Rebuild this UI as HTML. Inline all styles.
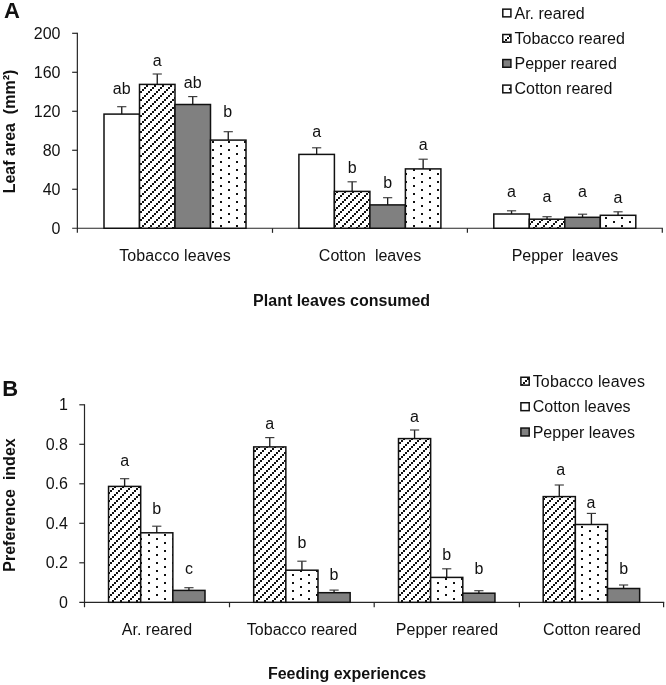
<!DOCTYPE html>
<html><head><meta charset="utf-8"><title>Figure</title>
<style>
html,body{margin:0;padding:0;background:#fff;}
svg{display:block;will-change:transform;white-space:pre;font-family:"Liberation Sans",sans-serif;fill:#111;}
</style></head><body>
<svg width="666" height="685" viewBox="0 0 666 685">

<rect width="666" height="685" fill="#fff"/>

<path d="M77.35 32.7V232.85M72.14999999999999 228.25H662.9" stroke="#262626" stroke-width="1.2" fill="none"/>
<text x="60.50" y="233.75" text-anchor="end" font-size="16" xml:space="preserve">0</text>
<path d="M72.14999999999999 189.26H77.35" stroke="#262626" stroke-width="1.2"/>
<text x="60.50" y="194.76" text-anchor="end" font-size="16" xml:space="preserve">40</text>
<path d="M72.14999999999999 150.27H77.35" stroke="#262626" stroke-width="1.2"/>
<text x="60.50" y="155.77" text-anchor="end" font-size="16" xml:space="preserve">80</text>
<path d="M72.14999999999999 111.28H77.35" stroke="#262626" stroke-width="1.2"/>
<text x="60.50" y="116.78" text-anchor="end" font-size="16" xml:space="preserve">120</text>
<path d="M72.14999999999999 72.29H77.35" stroke="#262626" stroke-width="1.2"/>
<text x="60.50" y="77.79" text-anchor="end" font-size="16" xml:space="preserve">160</text>
<path d="M72.14999999999999 33.30H77.35" stroke="#262626" stroke-width="1.2"/>
<text x="60.50" y="38.80" text-anchor="end" font-size="16" xml:space="preserve">200</text>
<path d="M272.5 228.25V232.85" stroke="#262626" stroke-width="1.2"/>
<path d="M467.4 228.25V232.85" stroke="#262626" stroke-width="1.2"/>
<path d="M662.3 228.25V232.85" stroke="#262626" stroke-width="1.2"/>
<path d="M121.75 114.10V106.70" stroke="#1c1c1c" stroke-width="1.35" fill="none"/>
<path d="M117.15 106.70H126.35" stroke="#3c3c3c" stroke-width="1.15" fill="none"/>
<rect x="104.00" y="114.10" width="35.50" height="114.15" fill="#fff" stroke="#111" stroke-width="1.5"/>
<text x="121.75" y="94.00" text-anchor="middle" font-size="16" xml:space="preserve">ab</text>
<path d="M157.25 84.40V74.00" stroke="#1c1c1c" stroke-width="1.35" fill="none"/>
<path d="M152.65 74.00H161.85" stroke="#3c3c3c" stroke-width="1.15" fill="none"/>
<rect x="139.50" y="84.40" width="35.50" height="143.85" fill="#fff"/>
<path d="M139.5 85h0.5v2h-0.5zM139.5 93h0.5v2h-0.5zM139.5 101h0.5v2h-0.5zM139.5 109h0.5v2h-0.5zM139.5 117h0.5v2h-0.5zM139.5 125h0.5v2h-0.5zM139.5 133h0.5v2h-0.5zM139.5 141h0.5v2h-0.5zM139.5 149h0.5v2h-0.5zM139.5 157h0.5v2h-0.5zM139.5 165h0.5v2h-0.5zM139.5 173h0.5v2h-0.5zM139.5 181h0.5v2h-0.5zM139.5 189h0.5v2h-0.5zM139.5 197h0.5v2h-0.5zM139.5 205h0.5v2h-0.5zM139.5 213h0.5v2h-0.5zM139.5 221h0.5v2h-0.5zM140 84.4h2v0.6h-2zM146 85h2v2h-2zM144 87h2v2h-2zM142 89h2v2h-2zM140 91h2v2h-2zM146 93h2v2h-2zM144 95h2v2h-2zM142 97h2v2h-2zM140 99h2v2h-2zM146 101h2v2h-2zM144 103h2v2h-2zM142 105h2v2h-2zM140 107h2v2h-2zM146 109h2v2h-2zM144 111h2v2h-2zM142 113h2v2h-2zM140 115h2v2h-2zM146 117h2v2h-2zM144 119h2v2h-2zM142 121h2v2h-2zM140 123h2v2h-2zM146 125h2v2h-2zM144 127h2v2h-2zM142 129h2v2h-2zM140 131h2v2h-2zM146 133h2v2h-2zM144 135h2v2h-2zM142 137h2v2h-2zM140 139h2v2h-2zM146 141h2v2h-2zM144 143h2v2h-2zM142 145h2v2h-2zM140 147h2v2h-2zM146 149h2v2h-2zM144 151h2v2h-2zM142 153h2v2h-2zM140 155h2v2h-2zM146 157h2v2h-2zM144 159h2v2h-2zM142 161h2v2h-2zM140 163h2v2h-2zM146 165h2v2h-2zM144 167h2v2h-2zM142 169h2v2h-2zM140 171h2v2h-2zM146 173h2v2h-2zM144 175h2v2h-2zM142 177h2v2h-2zM140 179h2v2h-2zM146 181h2v2h-2zM144 183h2v2h-2zM142 185h2v2h-2zM140 187h2v2h-2zM146 189h2v2h-2zM144 191h2v2h-2zM142 193h2v2h-2zM140 195h2v2h-2zM146 197h2v2h-2zM144 199h2v2h-2zM142 201h2v2h-2zM140 203h2v2h-2zM146 205h2v2h-2zM144 207h2v2h-2zM142 209h2v2h-2zM140 211h2v2h-2zM146 213h2v2h-2zM144 215h2v2h-2zM142 217h2v2h-2zM140 219h2v2h-2zM146 221h2v2h-2zM144 223h2v2h-2zM142 225h2v2h-2zM140 227h2v1.25h-2zM148 84.4h2v0.6h-2zM154 85h2v2h-2zM152 87h2v2h-2zM150 89h2v2h-2zM148 91h2v2h-2zM154 93h2v2h-2zM152 95h2v2h-2zM150 97h2v2h-2zM148 99h2v2h-2zM154 101h2v2h-2zM152 103h2v2h-2zM150 105h2v2h-2zM148 107h2v2h-2zM154 109h2v2h-2zM152 111h2v2h-2zM150 113h2v2h-2zM148 115h2v2h-2zM154 117h2v2h-2zM152 119h2v2h-2zM150 121h2v2h-2zM148 123h2v2h-2zM154 125h2v2h-2zM152 127h2v2h-2zM150 129h2v2h-2zM148 131h2v2h-2zM154 133h2v2h-2zM152 135h2v2h-2zM150 137h2v2h-2zM148 139h2v2h-2zM154 141h2v2h-2zM152 143h2v2h-2zM150 145h2v2h-2zM148 147h2v2h-2zM154 149h2v2h-2zM152 151h2v2h-2zM150 153h2v2h-2zM148 155h2v2h-2zM154 157h2v2h-2zM152 159h2v2h-2zM150 161h2v2h-2zM148 163h2v2h-2zM154 165h2v2h-2zM152 167h2v2h-2zM150 169h2v2h-2zM148 171h2v2h-2zM154 173h2v2h-2zM152 175h2v2h-2zM150 177h2v2h-2zM148 179h2v2h-2zM154 181h2v2h-2zM152 183h2v2h-2zM150 185h2v2h-2zM148 187h2v2h-2zM154 189h2v2h-2zM152 191h2v2h-2zM150 193h2v2h-2zM148 195h2v2h-2zM154 197h2v2h-2zM152 199h2v2h-2zM150 201h2v2h-2zM148 203h2v2h-2zM154 205h2v2h-2zM152 207h2v2h-2zM150 209h2v2h-2zM148 211h2v2h-2zM154 213h2v2h-2zM152 215h2v2h-2zM150 217h2v2h-2zM148 219h2v2h-2zM154 221h2v2h-2zM152 223h2v2h-2zM150 225h2v2h-2zM148 227h2v1.25h-2zM156 84.4h2v0.6h-2zM162 85h2v2h-2zM160 87h2v2h-2zM158 89h2v2h-2zM156 91h2v2h-2zM162 93h2v2h-2zM160 95h2v2h-2zM158 97h2v2h-2zM156 99h2v2h-2zM162 101h2v2h-2zM160 103h2v2h-2zM158 105h2v2h-2zM156 107h2v2h-2zM162 109h2v2h-2zM160 111h2v2h-2zM158 113h2v2h-2zM156 115h2v2h-2zM162 117h2v2h-2zM160 119h2v2h-2zM158 121h2v2h-2zM156 123h2v2h-2zM162 125h2v2h-2zM160 127h2v2h-2zM158 129h2v2h-2zM156 131h2v2h-2zM162 133h2v2h-2zM160 135h2v2h-2zM158 137h2v2h-2zM156 139h2v2h-2zM162 141h2v2h-2zM160 143h2v2h-2zM158 145h2v2h-2zM156 147h2v2h-2zM162 149h2v2h-2zM160 151h2v2h-2zM158 153h2v2h-2zM156 155h2v2h-2zM162 157h2v2h-2zM160 159h2v2h-2zM158 161h2v2h-2zM156 163h2v2h-2zM162 165h2v2h-2zM160 167h2v2h-2zM158 169h2v2h-2zM156 171h2v2h-2zM162 173h2v2h-2zM160 175h2v2h-2zM158 177h2v2h-2zM156 179h2v2h-2zM162 181h2v2h-2zM160 183h2v2h-2zM158 185h2v2h-2zM156 187h2v2h-2zM162 189h2v2h-2zM160 191h2v2h-2zM158 193h2v2h-2zM156 195h2v2h-2zM162 197h2v2h-2zM160 199h2v2h-2zM158 201h2v2h-2zM156 203h2v2h-2zM162 205h2v2h-2zM160 207h2v2h-2zM158 209h2v2h-2zM156 211h2v2h-2zM162 213h2v2h-2zM160 215h2v2h-2zM158 217h2v2h-2zM156 219h2v2h-2zM162 221h2v2h-2zM160 223h2v2h-2zM158 225h2v2h-2zM156 227h2v1.25h-2zM164 84.4h2v0.6h-2zM170 85h2v2h-2zM168 87h2v2h-2zM166 89h2v2h-2zM164 91h2v2h-2zM170 93h2v2h-2zM168 95h2v2h-2zM166 97h2v2h-2zM164 99h2v2h-2zM170 101h2v2h-2zM168 103h2v2h-2zM166 105h2v2h-2zM164 107h2v2h-2zM170 109h2v2h-2zM168 111h2v2h-2zM166 113h2v2h-2zM164 115h2v2h-2zM170 117h2v2h-2zM168 119h2v2h-2zM166 121h2v2h-2zM164 123h2v2h-2zM170 125h2v2h-2zM168 127h2v2h-2zM166 129h2v2h-2zM164 131h2v2h-2zM170 133h2v2h-2zM168 135h2v2h-2zM166 137h2v2h-2zM164 139h2v2h-2zM170 141h2v2h-2zM168 143h2v2h-2zM166 145h2v2h-2zM164 147h2v2h-2zM170 149h2v2h-2zM168 151h2v2h-2zM166 153h2v2h-2zM164 155h2v2h-2zM170 157h2v2h-2zM168 159h2v2h-2zM166 161h2v2h-2zM164 163h2v2h-2zM170 165h2v2h-2zM168 167h2v2h-2zM166 169h2v2h-2zM164 171h2v2h-2zM170 173h2v2h-2zM168 175h2v2h-2zM166 177h2v2h-2zM164 179h2v2h-2zM170 181h2v2h-2zM168 183h2v2h-2zM166 185h2v2h-2zM164 187h2v2h-2zM170 189h2v2h-2zM168 191h2v2h-2zM166 193h2v2h-2zM164 195h2v2h-2zM170 197h2v2h-2zM168 199h2v2h-2zM166 201h2v2h-2zM164 203h2v2h-2zM170 205h2v2h-2zM168 207h2v2h-2zM166 209h2v2h-2zM164 211h2v2h-2zM170 213h2v2h-2zM168 215h2v2h-2zM166 217h2v2h-2zM164 219h2v2h-2zM170 221h2v2h-2zM168 223h2v2h-2zM166 225h2v2h-2zM164 227h2v1.25h-2zM172 84.4h2v0.6h-2zM174 89h1v2h-1zM172 91h2v2h-2zM174 97h1v2h-1zM172 99h2v2h-2zM174 105h1v2h-1zM172 107h2v2h-2zM174 113h1v2h-1zM172 115h2v2h-2zM174 121h1v2h-1zM172 123h2v2h-2zM174 129h1v2h-1zM172 131h2v2h-2zM174 137h1v2h-1zM172 139h2v2h-2zM174 145h1v2h-1zM172 147h2v2h-2zM174 153h1v2h-1zM172 155h2v2h-2zM174 161h1v2h-1zM172 163h2v2h-2zM174 169h1v2h-1zM172 171h2v2h-2zM174 177h1v2h-1zM172 179h2v2h-2zM174 185h1v2h-1zM172 187h2v2h-2zM174 193h1v2h-1zM172 195h2v2h-2zM174 201h1v2h-1zM172 203h2v2h-2zM174 209h1v2h-1zM172 211h2v2h-2zM174 217h1v2h-1zM172 219h2v2h-2zM174 225h1v2h-1zM172 227h2v1.25h-2z" fill="#111"/>
<rect x="139.50" y="84.40" width="35.50" height="143.85" fill="none" stroke="#111" stroke-width="1.5"/>
<text x="157.25" y="65.60" text-anchor="middle" font-size="16" xml:space="preserve">a</text>
<path d="M192.75 104.50V96.60" stroke="#1c1c1c" stroke-width="1.35" fill="none"/>
<path d="M188.15 96.60H197.35" stroke="#3c3c3c" stroke-width="1.15" fill="none"/>
<rect x="175.00" y="104.50" width="35.50" height="123.75" fill="#808080" stroke="#111" stroke-width="1.5"/>
<text x="192.75" y="87.70" text-anchor="middle" font-size="16" xml:space="preserve">ab</text>
<path d="M228.25 140.10V131.70" stroke="#1c1c1c" stroke-width="1.35" fill="none"/>
<path d="M223.65 131.70H232.85" stroke="#3c3c3c" stroke-width="1.15" fill="none"/>
<rect x="210.50" y="140.10" width="35.50" height="88.15" fill="#fff"/>
<path d="M212 141h2v2h-2zM220 145h2v2h-2zM212 149h2v2h-2zM220 153h2v2h-2zM212 157h2v2h-2zM220 161h2v2h-2zM212 165h2v2h-2zM220 169h2v2h-2zM212 173h2v2h-2zM220 177h2v2h-2zM212 181h2v2h-2zM220 185h2v2h-2zM212 189h2v2h-2zM220 193h2v2h-2zM212 197h2v2h-2zM220 201h2v2h-2zM212 205h2v2h-2zM220 209h2v2h-2zM212 213h2v2h-2zM220 217h2v2h-2zM212 221h2v2h-2zM220 225h2v2h-2zM228 141h2v2h-2zM236 145h2v2h-2zM228 149h2v2h-2zM236 153h2v2h-2zM228 157h2v2h-2zM236 161h2v2h-2zM228 165h2v2h-2zM236 169h2v2h-2zM228 173h2v2h-2zM236 177h2v2h-2zM228 181h2v2h-2zM236 185h2v2h-2zM228 189h2v2h-2zM236 193h2v2h-2zM228 197h2v2h-2zM236 201h2v2h-2zM228 205h2v2h-2zM236 209h2v2h-2zM228 213h2v2h-2zM236 217h2v2h-2zM228 221h2v2h-2zM236 225h2v2h-2zM244 141h2v2h-2zM244 149h2v2h-2zM244 157h2v2h-2zM244 165h2v2h-2zM244 173h2v2h-2zM244 181h2v2h-2zM244 189h2v2h-2zM244 197h2v2h-2zM244 205h2v2h-2zM244 213h2v2h-2zM244 221h2v2h-2z" fill="#111"/>
<rect x="210.50" y="140.10" width="35.50" height="88.15" fill="none" stroke="#111" stroke-width="1.5"/>
<text x="227.75" y="117.40" text-anchor="middle" font-size="16" xml:space="preserve">b</text>
<path d="M316.65 154.40V147.80" stroke="#1c1c1c" stroke-width="1.35" fill="none"/>
<path d="M312.05 147.80H321.25" stroke="#3c3c3c" stroke-width="1.15" fill="none"/>
<rect x="298.90" y="154.40" width="35.50" height="73.85" fill="#fff" stroke="#111" stroke-width="1.5"/>
<text x="316.65" y="137.00" text-anchor="middle" font-size="16" xml:space="preserve">a</text>
<path d="M352.15 191.40V181.80" stroke="#1c1c1c" stroke-width="1.35" fill="none"/>
<path d="M347.55 181.80H356.75" stroke="#3c3c3c" stroke-width="1.15" fill="none"/>
<rect x="334.40" y="191.40" width="35.50" height="36.85" fill="#fff"/>
<path d="M336 191.4h2v1.6h-2zM334.4 193h1.6v2h-1.6zM338 197h2v2h-2zM336 199h2v2h-2zM334.4 201h1.6v2h-1.6zM338 205h2v2h-2zM336 207h2v2h-2zM334.4 209h1.6v2h-1.6zM338 213h2v2h-2zM336 215h2v2h-2zM334.4 217h1.6v2h-1.6zM338 221h2v2h-2zM336 223h2v2h-2zM334.4 225h1.6v2h-1.6zM344 191.4h2v1.6h-2zM342 193h2v2h-2zM340 195h2v2h-2zM346 197h2v2h-2zM344 199h2v2h-2zM342 201h2v2h-2zM340 203h2v2h-2zM346 205h2v2h-2zM344 207h2v2h-2zM342 209h2v2h-2zM340 211h2v2h-2zM346 213h2v2h-2zM344 215h2v2h-2zM342 217h2v2h-2zM340 219h2v2h-2zM346 221h2v2h-2zM344 223h2v2h-2zM342 225h2v2h-2zM340 227h2v1.25h-2zM352 191.4h2v1.6h-2zM350 193h2v2h-2zM348 195h2v2h-2zM354 197h2v2h-2zM352 199h2v2h-2zM350 201h2v2h-2zM348 203h2v2h-2zM354 205h2v2h-2zM352 207h2v2h-2zM350 209h2v2h-2zM348 211h2v2h-2zM354 213h2v2h-2zM352 215h2v2h-2zM350 217h2v2h-2zM348 219h2v2h-2zM354 221h2v2h-2zM352 223h2v2h-2zM350 225h2v2h-2zM348 227h2v1.25h-2zM360 191.4h2v1.6h-2zM358 193h2v2h-2zM356 195h2v2h-2zM362 197h2v2h-2zM360 199h2v2h-2zM358 201h2v2h-2zM356 203h2v2h-2zM362 205h2v2h-2zM360 207h2v2h-2zM358 209h2v2h-2zM356 211h2v2h-2zM362 213h2v2h-2zM360 215h2v2h-2zM358 217h2v2h-2zM356 219h2v2h-2zM362 221h2v2h-2zM360 223h2v2h-2zM358 225h2v2h-2zM356 227h2v1.25h-2zM368 191.4h1.9v1.6h-1.9zM366 193h2v2h-2zM364 195h2v2h-2zM368 199h1.9v2h-1.9zM366 201h2v2h-2zM364 203h2v2h-2zM368 207h1.9v2h-1.9zM366 209h2v2h-2zM364 211h2v2h-2zM368 215h1.9v2h-1.9zM366 217h2v2h-2zM364 219h2v2h-2zM368 223h1.9v2h-1.9zM366 225h2v2h-2zM364 227h2v1.25h-2z" fill="#111"/>
<rect x="334.40" y="191.40" width="35.50" height="36.85" fill="none" stroke="#111" stroke-width="1.5"/>
<text x="352.15" y="172.50" text-anchor="middle" font-size="16" xml:space="preserve">b</text>
<path d="M387.65 204.90V197.70" stroke="#1c1c1c" stroke-width="1.35" fill="none"/>
<path d="M383.05 197.70H392.25" stroke="#3c3c3c" stroke-width="1.15" fill="none"/>
<rect x="369.90" y="204.90" width="35.50" height="23.35" fill="#808080" stroke="#111" stroke-width="1.5"/>
<text x="387.65" y="187.50" text-anchor="middle" font-size="16" xml:space="preserve">b</text>
<path d="M423.15 168.90V159.20" stroke="#1c1c1c" stroke-width="1.35" fill="none"/>
<path d="M418.55 159.20H427.75" stroke="#3c3c3c" stroke-width="1.15" fill="none"/>
<rect x="405.40" y="168.90" width="35.50" height="59.35" fill="#fff"/>
<path d="M413 169h2v2h-2zM405.4 173h1.6v2h-1.6zM413 177h2v2h-2zM405.4 181h1.6v2h-1.6zM413 185h2v2h-2zM405.4 189h1.6v2h-1.6zM413 193h2v2h-2zM405.4 197h1.6v2h-1.6zM413 201h2v2h-2zM405.4 205h1.6v2h-1.6zM413 209h2v2h-2zM405.4 213h1.6v2h-1.6zM413 217h2v2h-2zM405.4 221h1.6v2h-1.6zM413 225h2v2h-2zM429 169h2v2h-2zM421 173h2v2h-2zM429 177h2v2h-2zM421 181h2v2h-2zM429 185h2v2h-2zM421 189h2v2h-2zM429 193h2v2h-2zM421 197h2v2h-2zM429 201h2v2h-2zM421 205h2v2h-2zM429 209h2v2h-2zM421 213h2v2h-2zM429 217h2v2h-2zM421 221h2v2h-2zM429 225h2v2h-2zM437 173h2v2h-2zM437 181h2v2h-2zM437 189h2v2h-2zM437 197h2v2h-2zM437 205h2v2h-2zM437 213h2v2h-2zM437 221h2v2h-2z" fill="#111"/>
<rect x="405.40" y="168.90" width="35.50" height="59.35" fill="none" stroke="#111" stroke-width="1.5"/>
<text x="423.15" y="149.60" text-anchor="middle" font-size="16" xml:space="preserve">a</text>
<path d="M511.55 214.00V210.80" stroke="#1c1c1c" stroke-width="1.35" fill="none"/>
<path d="M506.95 210.80H516.15" stroke="#3c3c3c" stroke-width="1.15" fill="none"/>
<rect x="493.80" y="214.00" width="35.50" height="14.25" fill="#fff" stroke="#111" stroke-width="1.5"/>
<text x="511.55" y="196.90" text-anchor="middle" font-size="16" xml:space="preserve">a</text>
<path d="M547.05 219.20V216.70" stroke="#1c1c1c" stroke-width="1.35" fill="none"/>
<path d="M542.45 216.70H551.65" stroke="#3c3c3c" stroke-width="1.15" fill="none"/>
<rect x="529.30" y="219.20" width="35.50" height="9.05" fill="#fff"/>
<path d="M531 221h2v2h-2zM529.3 223h1.7v2h-1.7zM533 219.2h2v1.8h-2zM539 221h2v2h-2zM537 223h2v2h-2zM535 225h2v2h-2zM533 227h2v1.25h-2zM541 219.2h2v1.8h-2zM547 221h2v2h-2zM545 223h2v2h-2zM543 225h2v2h-2zM541 227h2v1.25h-2zM549 219.2h2v1.8h-2zM555 221h2v2h-2zM553 223h2v2h-2zM551 225h2v2h-2zM549 227h2v1.25h-2zM557 219.2h2v1.8h-2zM563 221h1.8v2h-1.8zM561 223h2v2h-2zM559 225h2v2h-2zM557 227h2v1.25h-2z" fill="#111"/>
<rect x="529.30" y="219.20" width="35.50" height="9.05" fill="none" stroke="#111" stroke-width="1.5"/>
<text x="547.05" y="202.40" text-anchor="middle" font-size="16" xml:space="preserve">a</text>
<path d="M582.55 217.30V214.20" stroke="#1c1c1c" stroke-width="1.35" fill="none"/>
<path d="M577.95 214.20H587.15" stroke="#3c3c3c" stroke-width="1.15" fill="none"/>
<rect x="564.80" y="217.30" width="35.50" height="10.95" fill="#808080" stroke="#111" stroke-width="1.5"/>
<text x="582.55" y="196.90" text-anchor="middle" font-size="16" xml:space="preserve">a</text>
<path d="M618.05 215.30V211.80" stroke="#1c1c1c" stroke-width="1.35" fill="none"/>
<path d="M613.45 211.80H622.65" stroke="#3c3c3c" stroke-width="1.15" fill="none"/>
<rect x="600.30" y="215.30" width="35.50" height="12.95" fill="#fff"/>
<path d="M605 217h2v2h-2zM605 225h2v2h-2zM621 217h2v2h-2zM613 221h2v2h-2zM621 225h2v2h-2zM629 221h2v2h-2z" fill="#111"/>
<rect x="600.30" y="215.30" width="35.50" height="12.95" fill="none" stroke="#111" stroke-width="1.5"/>
<text x="618.05" y="202.50" text-anchor="middle" font-size="16" xml:space="preserve">a</text>
<text x="175.00" y="260.60" text-anchor="middle" font-size="16" xml:space="preserve" textLength="111.5">Tobacco leaves</text>
<text x="370.00" y="260.60" text-anchor="middle" font-size="16" xml:space="preserve">Cotton  leaves</text>
<text x="565.00" y="260.60" text-anchor="middle" font-size="16" xml:space="preserve">Pepper  leaves</text>
<text x="341.60" y="306.40" text-anchor="middle" font-size="16" font-weight="bold" xml:space="preserve">Plant leaves consumed</text>
<text x="3.90" y="17.90" text-anchor="start" font-size="22" font-weight="bold" xml:space="preserve">A</text>
<text transform="translate(15.0,131.5) rotate(-90)" text-anchor="middle" font-size="16" font-weight="bold" xml:space="preserve">Leaf area  (mm²)</text>
<rect x="502.80" y="9.15" width="8.1" height="7.7" fill="#fff" stroke="#111" stroke-width="1.5"/>
<text x="514.50" y="18.90" text-anchor="start" font-size="16" xml:space="preserve">Ar. reared</text>
<rect x="502.80" y="34.50" width="8.1" height="7.7" fill="#fff"/>
<path d="M503 34.5h2v0.5h-2zM502.8 35h0.2v2h-0.2zM507 37h2v2h-2zM505 39h2v2h-2zM503 41h2v1.2h-2zM509 35h1.9v2h-1.9z" fill="#111"/>
<rect x="502.80" y="34.50" width="8.1" height="7.7" fill="none" stroke="#111" stroke-width="1.5"/>
<text x="514.50" y="44.40" text-anchor="start" font-size="16" xml:space="preserve">Tobacco reared</text>
<rect x="502.80" y="59.55" width="8.1" height="7.7" fill="#808080" stroke="#111" stroke-width="1.5"/>
<text x="514.50" y="69.10" text-anchor="start" font-size="16" xml:space="preserve">Pepper reared</text>
<rect x="502.80" y="85.10" width="8.1" height="7.7" fill="#fff" stroke="#111" stroke-width="1.5"/>
<rect x="508.90" y="87.90" width="2" height="2" fill="#111"/>
<text x="514.50" y="94.40" text-anchor="start" font-size="16" xml:space="preserve">Cotton reared</text>
<path d="M84.5 404.2V607.3M79.3 602.3H664.2" stroke="#262626" stroke-width="1.2" fill="none"/>
<text x="67.90" y="607.90" text-anchor="end" font-size="16" xml:space="preserve">0</text>
<path d="M79.3 562.80H84.5" stroke="#262626" stroke-width="1.2"/>
<text x="67.90" y="568.40" text-anchor="end" font-size="16" xml:space="preserve">0.2</text>
<path d="M79.3 523.30H84.5" stroke="#262626" stroke-width="1.2"/>
<text x="67.90" y="528.90" text-anchor="end" font-size="16" xml:space="preserve">0.4</text>
<path d="M79.3 483.80H84.5" stroke="#262626" stroke-width="1.2"/>
<text x="67.90" y="489.40" text-anchor="end" font-size="16" xml:space="preserve">0.6</text>
<path d="M79.3 444.30H84.5" stroke="#262626" stroke-width="1.2"/>
<text x="67.90" y="449.90" text-anchor="end" font-size="16" xml:space="preserve">0.8</text>
<path d="M79.3 404.80H84.5" stroke="#262626" stroke-width="1.2"/>
<text x="67.90" y="410.40" text-anchor="end" font-size="16" xml:space="preserve">1</text>
<path d="M229.5 602.3V607.3" stroke="#262626" stroke-width="1.2"/>
<path d="M374.2 602.3V607.3" stroke="#262626" stroke-width="1.2"/>
<path d="M519.4 602.3V607.3" stroke="#262626" stroke-width="1.2"/>
<path d="M663.6 602.3V607.3" stroke="#262626" stroke-width="1.2"/>
<path d="M124.62 486.40V478.70" stroke="#1c1c1c" stroke-width="1.35" fill="none"/>
<path d="M120.03 478.70H129.22" stroke="#3c3c3c" stroke-width="1.15" fill="none"/>
<rect x="108.55" y="486.40" width="32.15" height="115.90" fill="#fff"/>
<path d="M114 486.4h2v1.6h-2zM112 488h2v2h-2zM110 490h2v2h-2zM108.55 492h1.45v2h-1.45zM114 494h2v2h-2zM112 496h2v2h-2zM110 498h2v2h-2zM108.55 500h1.45v2h-1.45zM114 502h2v2h-2zM112 504h2v2h-2zM110 506h2v2h-2zM108.55 508h1.45v2h-1.45zM114 510h2v2h-2zM112 512h2v2h-2zM110 514h2v2h-2zM108.55 516h1.45v2h-1.45zM114 518h2v2h-2zM112 520h2v2h-2zM110 522h2v2h-2zM108.55 524h1.45v2h-1.45zM114 526h2v2h-2zM112 528h2v2h-2zM110 530h2v2h-2zM108.55 532h1.45v2h-1.45zM114 534h2v2h-2zM112 536h2v2h-2zM110 538h2v2h-2zM108.55 540h1.45v2h-1.45zM114 542h2v2h-2zM112 544h2v2h-2zM110 546h2v2h-2zM108.55 548h1.45v2h-1.45zM114 550h2v2h-2zM112 552h2v2h-2zM110 554h2v2h-2zM108.55 556h1.45v2h-1.45zM114 558h2v2h-2zM112 560h2v2h-2zM110 562h2v2h-2zM108.55 564h1.45v2h-1.45zM114 566h2v2h-2zM112 568h2v2h-2zM110 570h2v2h-2zM108.55 572h1.45v2h-1.45zM114 574h2v2h-2zM112 576h2v2h-2zM110 578h2v2h-2zM108.55 580h1.45v2h-1.45zM114 582h2v2h-2zM112 584h2v2h-2zM110 586h2v2h-2zM108.55 588h1.45v2h-1.45zM114 590h2v2h-2zM112 592h2v2h-2zM110 594h2v2h-2zM108.55 596h1.45v2h-1.45zM114 598h2v2h-2zM112 600h2v2h-2zM110 602h2v0.3h-2zM122 486.4h2v1.6h-2zM120 488h2v2h-2zM118 490h2v2h-2zM116 492h2v2h-2zM122 494h2v2h-2zM120 496h2v2h-2zM118 498h2v2h-2zM116 500h2v2h-2zM122 502h2v2h-2zM120 504h2v2h-2zM118 506h2v2h-2zM116 508h2v2h-2zM122 510h2v2h-2zM120 512h2v2h-2zM118 514h2v2h-2zM116 516h2v2h-2zM122 518h2v2h-2zM120 520h2v2h-2zM118 522h2v2h-2zM116 524h2v2h-2zM122 526h2v2h-2zM120 528h2v2h-2zM118 530h2v2h-2zM116 532h2v2h-2zM122 534h2v2h-2zM120 536h2v2h-2zM118 538h2v2h-2zM116 540h2v2h-2zM122 542h2v2h-2zM120 544h2v2h-2zM118 546h2v2h-2zM116 548h2v2h-2zM122 550h2v2h-2zM120 552h2v2h-2zM118 554h2v2h-2zM116 556h2v2h-2zM122 558h2v2h-2zM120 560h2v2h-2zM118 562h2v2h-2zM116 564h2v2h-2zM122 566h2v2h-2zM120 568h2v2h-2zM118 570h2v2h-2zM116 572h2v2h-2zM122 574h2v2h-2zM120 576h2v2h-2zM118 578h2v2h-2zM116 580h2v2h-2zM122 582h2v2h-2zM120 584h2v2h-2zM118 586h2v2h-2zM116 588h2v2h-2zM122 590h2v2h-2zM120 592h2v2h-2zM118 594h2v2h-2zM116 596h2v2h-2zM122 598h2v2h-2zM120 600h2v2h-2zM118 602h2v0.3h-2zM130 486.4h2v1.6h-2zM128 488h2v2h-2zM126 490h2v2h-2zM124 492h2v2h-2zM130 494h2v2h-2zM128 496h2v2h-2zM126 498h2v2h-2zM124 500h2v2h-2zM130 502h2v2h-2zM128 504h2v2h-2zM126 506h2v2h-2zM124 508h2v2h-2zM130 510h2v2h-2zM128 512h2v2h-2zM126 514h2v2h-2zM124 516h2v2h-2zM130 518h2v2h-2zM128 520h2v2h-2zM126 522h2v2h-2zM124 524h2v2h-2zM130 526h2v2h-2zM128 528h2v2h-2zM126 530h2v2h-2zM124 532h2v2h-2zM130 534h2v2h-2zM128 536h2v2h-2zM126 538h2v2h-2zM124 540h2v2h-2zM130 542h2v2h-2zM128 544h2v2h-2zM126 546h2v2h-2zM124 548h2v2h-2zM130 550h2v2h-2zM128 552h2v2h-2zM126 554h2v2h-2zM124 556h2v2h-2zM130 558h2v2h-2zM128 560h2v2h-2zM126 562h2v2h-2zM124 564h2v2h-2zM130 566h2v2h-2zM128 568h2v2h-2zM126 570h2v2h-2zM124 572h2v2h-2zM130 574h2v2h-2zM128 576h2v2h-2zM126 578h2v2h-2zM124 580h2v2h-2zM130 582h2v2h-2zM128 584h2v2h-2zM126 586h2v2h-2zM124 588h2v2h-2zM130 590h2v2h-2zM128 592h2v2h-2zM126 594h2v2h-2zM124 596h2v2h-2zM130 598h2v2h-2zM128 600h2v2h-2zM126 602h2v0.3h-2zM138 486.4h2v1.6h-2zM136 488h2v2h-2zM134 490h2v2h-2zM132 492h2v2h-2zM138 494h2v2h-2zM136 496h2v2h-2zM134 498h2v2h-2zM132 500h2v2h-2zM138 502h2v2h-2zM136 504h2v2h-2zM134 506h2v2h-2zM132 508h2v2h-2zM138 510h2v2h-2zM136 512h2v2h-2zM134 514h2v2h-2zM132 516h2v2h-2zM138 518h2v2h-2zM136 520h2v2h-2zM134 522h2v2h-2zM132 524h2v2h-2zM138 526h2v2h-2zM136 528h2v2h-2zM134 530h2v2h-2zM132 532h2v2h-2zM138 534h2v2h-2zM136 536h2v2h-2zM134 538h2v2h-2zM132 540h2v2h-2zM138 542h2v2h-2zM136 544h2v2h-2zM134 546h2v2h-2zM132 548h2v2h-2zM138 550h2v2h-2zM136 552h2v2h-2zM134 554h2v2h-2zM132 556h2v2h-2zM138 558h2v2h-2zM136 560h2v2h-2zM134 562h2v2h-2zM132 564h2v2h-2zM138 566h2v2h-2zM136 568h2v2h-2zM134 570h2v2h-2zM132 572h2v2h-2zM138 574h2v2h-2zM136 576h2v2h-2zM134 578h2v2h-2zM132 580h2v2h-2zM138 582h2v2h-2zM136 584h2v2h-2zM134 586h2v2h-2zM132 588h2v2h-2zM138 590h2v2h-2zM136 592h2v2h-2zM134 594h2v2h-2zM132 596h2v2h-2zM138 598h2v2h-2zM136 600h2v2h-2zM134 602h2v0.3h-2zM140 492h0.7v2h-0.7zM140 500h0.7v2h-0.7zM140 508h0.7v2h-0.7zM140 516h0.7v2h-0.7zM140 524h0.7v2h-0.7zM140 532h0.7v2h-0.7zM140 540h0.7v2h-0.7zM140 548h0.7v2h-0.7zM140 556h0.7v2h-0.7zM140 564h0.7v2h-0.7zM140 572h0.7v2h-0.7zM140 580h0.7v2h-0.7zM140 588h0.7v2h-0.7zM140 596h0.7v2h-0.7z" fill="#111"/>
<rect x="108.55" y="486.40" width="32.15" height="115.90" fill="none" stroke="#111" stroke-width="1.5"/>
<text x="124.62" y="465.90" text-anchor="middle" font-size="16" xml:space="preserve">a</text>
<path d="M156.77 532.80V526.20" stroke="#1c1c1c" stroke-width="1.35" fill="none"/>
<path d="M152.17 526.20H161.37" stroke="#3c3c3c" stroke-width="1.15" fill="none"/>
<rect x="140.70" y="532.80" width="32.15" height="69.50" fill="#fff"/>
<path d="M140.7 538h1.3v2h-1.3zM140.7 546h1.3v2h-1.3zM140.7 554h1.3v2h-1.3zM140.7 562h1.3v2h-1.3zM140.7 570h1.3v2h-1.3zM140.7 578h1.3v2h-1.3zM140.7 586h1.3v2h-1.3zM140.7 594h1.3v2h-1.3zM140.7 602h1.3v0.3h-1.3zM148 534h2v2h-2zM156 538h2v2h-2zM148 542h2v2h-2zM156 546h2v2h-2zM148 550h2v2h-2zM156 554h2v2h-2zM148 558h2v2h-2zM156 562h2v2h-2zM148 566h2v2h-2zM156 570h2v2h-2zM148 574h2v2h-2zM156 578h2v2h-2zM148 582h2v2h-2zM156 586h2v2h-2zM148 590h2v2h-2zM156 594h2v2h-2zM148 598h2v2h-2zM156 602h2v0.3h-2zM164 534h2v2h-2zM172 538h0.85v2h-0.85zM164 542h2v2h-2zM172 546h0.85v2h-0.85zM164 550h2v2h-2zM172 554h0.85v2h-0.85zM164 558h2v2h-2zM172 562h0.85v2h-0.85zM164 566h2v2h-2zM172 570h0.85v2h-0.85zM164 574h2v2h-2zM172 578h0.85v2h-0.85zM164 582h2v2h-2zM172 586h0.85v2h-0.85zM164 590h2v2h-2zM172 594h0.85v2h-0.85zM164 598h2v2h-2zM172 602h0.85v0.3h-0.85z" fill="#111"/>
<rect x="140.70" y="532.80" width="32.15" height="69.50" fill="none" stroke="#111" stroke-width="1.5"/>
<text x="156.77" y="514.40" text-anchor="middle" font-size="16" xml:space="preserve">b</text>
<path d="M188.93 590.40V587.70" stroke="#1c1c1c" stroke-width="1.35" fill="none"/>
<path d="M184.33 587.70H193.53" stroke="#3c3c3c" stroke-width="1.15" fill="none"/>
<rect x="172.85" y="590.40" width="32.15" height="11.90" fill="#808080" stroke="#111" stroke-width="1.5"/>
<text x="188.93" y="573.60" text-anchor="middle" font-size="16" xml:space="preserve">c</text>
<path d="M269.77 446.90V437.60" stroke="#1c1c1c" stroke-width="1.35" fill="none"/>
<path d="M265.17 437.60H274.38" stroke="#3c3c3c" stroke-width="1.15" fill="none"/>
<rect x="253.70" y="446.90" width="32.15" height="155.40" fill="#fff"/>
<path d="M258 446.9h2v1.1h-2zM256 448h2v2h-2zM254 450h2v2h-2zM253.7 452h0.3v2h-0.3zM258 454h2v2h-2zM256 456h2v2h-2zM254 458h2v2h-2zM253.7 460h0.3v2h-0.3zM258 462h2v2h-2zM256 464h2v2h-2zM254 466h2v2h-2zM253.7 468h0.3v2h-0.3zM258 470h2v2h-2zM256 472h2v2h-2zM254 474h2v2h-2zM253.7 476h0.3v2h-0.3zM258 478h2v2h-2zM256 480h2v2h-2zM254 482h2v2h-2zM253.7 484h0.3v2h-0.3zM258 486h2v2h-2zM256 488h2v2h-2zM254 490h2v2h-2zM253.7 492h0.3v2h-0.3zM258 494h2v2h-2zM256 496h2v2h-2zM254 498h2v2h-2zM253.7 500h0.3v2h-0.3zM258 502h2v2h-2zM256 504h2v2h-2zM254 506h2v2h-2zM253.7 508h0.3v2h-0.3zM258 510h2v2h-2zM256 512h2v2h-2zM254 514h2v2h-2zM253.7 516h0.3v2h-0.3zM258 518h2v2h-2zM256 520h2v2h-2zM254 522h2v2h-2zM253.7 524h0.3v2h-0.3zM258 526h2v2h-2zM256 528h2v2h-2zM254 530h2v2h-2zM253.7 532h0.3v2h-0.3zM258 534h2v2h-2zM256 536h2v2h-2zM254 538h2v2h-2zM253.7 540h0.3v2h-0.3zM258 542h2v2h-2zM256 544h2v2h-2zM254 546h2v2h-2zM253.7 548h0.3v2h-0.3zM258 550h2v2h-2zM256 552h2v2h-2zM254 554h2v2h-2zM253.7 556h0.3v2h-0.3zM258 558h2v2h-2zM256 560h2v2h-2zM254 562h2v2h-2zM253.7 564h0.3v2h-0.3zM258 566h2v2h-2zM256 568h2v2h-2zM254 570h2v2h-2zM253.7 572h0.3v2h-0.3zM258 574h2v2h-2zM256 576h2v2h-2zM254 578h2v2h-2zM253.7 580h0.3v2h-0.3zM258 582h2v2h-2zM256 584h2v2h-2zM254 586h2v2h-2zM253.7 588h0.3v2h-0.3zM258 590h2v2h-2zM256 592h2v2h-2zM254 594h2v2h-2zM253.7 596h0.3v2h-0.3zM258 598h2v2h-2zM256 600h2v2h-2zM254 602h2v0.3h-2zM266 446.9h2v1.1h-2zM264 448h2v2h-2zM262 450h2v2h-2zM260 452h2v2h-2zM266 454h2v2h-2zM264 456h2v2h-2zM262 458h2v2h-2zM260 460h2v2h-2zM266 462h2v2h-2zM264 464h2v2h-2zM262 466h2v2h-2zM260 468h2v2h-2zM266 470h2v2h-2zM264 472h2v2h-2zM262 474h2v2h-2zM260 476h2v2h-2zM266 478h2v2h-2zM264 480h2v2h-2zM262 482h2v2h-2zM260 484h2v2h-2zM266 486h2v2h-2zM264 488h2v2h-2zM262 490h2v2h-2zM260 492h2v2h-2zM266 494h2v2h-2zM264 496h2v2h-2zM262 498h2v2h-2zM260 500h2v2h-2zM266 502h2v2h-2zM264 504h2v2h-2zM262 506h2v2h-2zM260 508h2v2h-2zM266 510h2v2h-2zM264 512h2v2h-2zM262 514h2v2h-2zM260 516h2v2h-2zM266 518h2v2h-2zM264 520h2v2h-2zM262 522h2v2h-2zM260 524h2v2h-2zM266 526h2v2h-2zM264 528h2v2h-2zM262 530h2v2h-2zM260 532h2v2h-2zM266 534h2v2h-2zM264 536h2v2h-2zM262 538h2v2h-2zM260 540h2v2h-2zM266 542h2v2h-2zM264 544h2v2h-2zM262 546h2v2h-2zM260 548h2v2h-2zM266 550h2v2h-2zM264 552h2v2h-2zM262 554h2v2h-2zM260 556h2v2h-2zM266 558h2v2h-2zM264 560h2v2h-2zM262 562h2v2h-2zM260 564h2v2h-2zM266 566h2v2h-2zM264 568h2v2h-2zM262 570h2v2h-2zM260 572h2v2h-2zM266 574h2v2h-2zM264 576h2v2h-2zM262 578h2v2h-2zM260 580h2v2h-2zM266 582h2v2h-2zM264 584h2v2h-2zM262 586h2v2h-2zM260 588h2v2h-2zM266 590h2v2h-2zM264 592h2v2h-2zM262 594h2v2h-2zM260 596h2v2h-2zM266 598h2v2h-2zM264 600h2v2h-2zM262 602h2v0.3h-2zM274 446.9h2v1.1h-2zM272 448h2v2h-2zM270 450h2v2h-2zM268 452h2v2h-2zM274 454h2v2h-2zM272 456h2v2h-2zM270 458h2v2h-2zM268 460h2v2h-2zM274 462h2v2h-2zM272 464h2v2h-2zM270 466h2v2h-2zM268 468h2v2h-2zM274 470h2v2h-2zM272 472h2v2h-2zM270 474h2v2h-2zM268 476h2v2h-2zM274 478h2v2h-2zM272 480h2v2h-2zM270 482h2v2h-2zM268 484h2v2h-2zM274 486h2v2h-2zM272 488h2v2h-2zM270 490h2v2h-2zM268 492h2v2h-2zM274 494h2v2h-2zM272 496h2v2h-2zM270 498h2v2h-2zM268 500h2v2h-2zM274 502h2v2h-2zM272 504h2v2h-2zM270 506h2v2h-2zM268 508h2v2h-2zM274 510h2v2h-2zM272 512h2v2h-2zM270 514h2v2h-2zM268 516h2v2h-2zM274 518h2v2h-2zM272 520h2v2h-2zM270 522h2v2h-2zM268 524h2v2h-2zM274 526h2v2h-2zM272 528h2v2h-2zM270 530h2v2h-2zM268 532h2v2h-2zM274 534h2v2h-2zM272 536h2v2h-2zM270 538h2v2h-2zM268 540h2v2h-2zM274 542h2v2h-2zM272 544h2v2h-2zM270 546h2v2h-2zM268 548h2v2h-2zM274 550h2v2h-2zM272 552h2v2h-2zM270 554h2v2h-2zM268 556h2v2h-2zM274 558h2v2h-2zM272 560h2v2h-2zM270 562h2v2h-2zM268 564h2v2h-2zM274 566h2v2h-2zM272 568h2v2h-2zM270 570h2v2h-2zM268 572h2v2h-2zM274 574h2v2h-2zM272 576h2v2h-2zM270 578h2v2h-2zM268 580h2v2h-2zM274 582h2v2h-2zM272 584h2v2h-2zM270 586h2v2h-2zM268 588h2v2h-2zM274 590h2v2h-2zM272 592h2v2h-2zM270 594h2v2h-2zM268 596h2v2h-2zM274 598h2v2h-2zM272 600h2v2h-2zM270 602h2v0.3h-2zM282 446.9h2v1.1h-2zM280 448h2v2h-2zM278 450h2v2h-2zM276 452h2v2h-2zM282 454h2v2h-2zM280 456h2v2h-2zM278 458h2v2h-2zM276 460h2v2h-2zM282 462h2v2h-2zM280 464h2v2h-2zM278 466h2v2h-2zM276 468h2v2h-2zM282 470h2v2h-2zM280 472h2v2h-2zM278 474h2v2h-2zM276 476h2v2h-2zM282 478h2v2h-2zM280 480h2v2h-2zM278 482h2v2h-2zM276 484h2v2h-2zM282 486h2v2h-2zM280 488h2v2h-2zM278 490h2v2h-2zM276 492h2v2h-2zM282 494h2v2h-2zM280 496h2v2h-2zM278 498h2v2h-2zM276 500h2v2h-2zM282 502h2v2h-2zM280 504h2v2h-2zM278 506h2v2h-2zM276 508h2v2h-2zM282 510h2v2h-2zM280 512h2v2h-2zM278 514h2v2h-2zM276 516h2v2h-2zM282 518h2v2h-2zM280 520h2v2h-2zM278 522h2v2h-2zM276 524h2v2h-2zM282 526h2v2h-2zM280 528h2v2h-2zM278 530h2v2h-2zM276 532h2v2h-2zM282 534h2v2h-2zM280 536h2v2h-2zM278 538h2v2h-2zM276 540h2v2h-2zM282 542h2v2h-2zM280 544h2v2h-2zM278 546h2v2h-2zM276 548h2v2h-2zM282 550h2v2h-2zM280 552h2v2h-2zM278 554h2v2h-2zM276 556h2v2h-2zM282 558h2v2h-2zM280 560h2v2h-2zM278 562h2v2h-2zM276 564h2v2h-2zM282 566h2v2h-2zM280 568h2v2h-2zM278 570h2v2h-2zM276 572h2v2h-2zM282 574h2v2h-2zM280 576h2v2h-2zM278 578h2v2h-2zM276 580h2v2h-2zM282 582h2v2h-2zM280 584h2v2h-2zM278 586h2v2h-2zM276 588h2v2h-2zM282 590h2v2h-2zM280 592h2v2h-2zM278 594h2v2h-2zM276 596h2v2h-2zM282 598h2v2h-2zM280 600h2v2h-2zM278 602h2v0.3h-2zM284 452h1.85v2h-1.85zM284 460h1.85v2h-1.85zM284 468h1.85v2h-1.85zM284 476h1.85v2h-1.85zM284 484h1.85v2h-1.85zM284 492h1.85v2h-1.85zM284 500h1.85v2h-1.85zM284 508h1.85v2h-1.85zM284 516h1.85v2h-1.85zM284 524h1.85v2h-1.85zM284 532h1.85v2h-1.85zM284 540h1.85v2h-1.85zM284 548h1.85v2h-1.85zM284 556h1.85v2h-1.85zM284 564h1.85v2h-1.85zM284 572h1.85v2h-1.85zM284 580h1.85v2h-1.85zM284 588h1.85v2h-1.85zM284 596h1.85v2h-1.85z" fill="#111"/>
<rect x="253.70" y="446.90" width="32.15" height="155.40" fill="none" stroke="#111" stroke-width="1.5"/>
<text x="269.77" y="429.30" text-anchor="middle" font-size="16" xml:space="preserve">a</text>
<path d="M301.92 570.20V561.20" stroke="#1c1c1c" stroke-width="1.35" fill="none"/>
<path d="M297.32 561.20H306.52" stroke="#3c3c3c" stroke-width="1.15" fill="none"/>
<rect x="285.85" y="570.20" width="32.15" height="32.10" fill="#fff"/>
<path d="M285.85 570.2h0.15v1.8h-0.15zM285.85 578h0.15v2h-0.15zM285.85 586h0.15v2h-0.15zM285.85 594h0.15v2h-0.15zM285.85 602h0.15v0.3h-0.15zM300 570.2h2v1.8h-2zM292 574h2v2h-2zM300 578h2v2h-2zM292 582h2v2h-2zM300 586h2v2h-2zM292 590h2v2h-2zM300 594h2v2h-2zM292 598h2v2h-2zM300 602h2v0.3h-2zM316 570.2h2v1.8h-2zM308 574h2v2h-2zM316 578h2v2h-2zM308 582h2v2h-2zM316 586h2v2h-2zM308 590h2v2h-2zM316 594h2v2h-2zM308 598h2v2h-2zM316 602h2v0.3h-2z" fill="#111"/>
<rect x="285.85" y="570.20" width="32.15" height="32.10" fill="none" stroke="#111" stroke-width="1.5"/>
<text x="301.92" y="547.70" text-anchor="middle" font-size="16" xml:space="preserve">b</text>
<path d="M334.07 592.70V590.10" stroke="#1c1c1c" stroke-width="1.35" fill="none"/>
<path d="M329.47 590.10H338.68" stroke="#3c3c3c" stroke-width="1.15" fill="none"/>
<rect x="318.00" y="592.70" width="32.15" height="9.60" fill="#808080" stroke="#111" stroke-width="1.5"/>
<text x="334.07" y="579.80" text-anchor="middle" font-size="16" xml:space="preserve">b</text>
<path d="M414.57 438.60V430.00" stroke="#1c1c1c" stroke-width="1.35" fill="none"/>
<path d="M409.97 430.00H419.18" stroke="#3c3c3c" stroke-width="1.15" fill="none"/>
<rect x="398.50" y="438.60" width="32.15" height="163.70" fill="#fff"/>
<path d="M403 438.6h2v1.4h-2zM401 440h2v2h-2zM399 442h2v2h-2zM398.5 444h0.5v2h-0.5zM403 446h2v2h-2zM401 448h2v2h-2zM399 450h2v2h-2zM398.5 452h0.5v2h-0.5zM403 454h2v2h-2zM401 456h2v2h-2zM399 458h2v2h-2zM398.5 460h0.5v2h-0.5zM403 462h2v2h-2zM401 464h2v2h-2zM399 466h2v2h-2zM398.5 468h0.5v2h-0.5zM403 470h2v2h-2zM401 472h2v2h-2zM399 474h2v2h-2zM398.5 476h0.5v2h-0.5zM403 478h2v2h-2zM401 480h2v2h-2zM399 482h2v2h-2zM398.5 484h0.5v2h-0.5zM403 486h2v2h-2zM401 488h2v2h-2zM399 490h2v2h-2zM398.5 492h0.5v2h-0.5zM403 494h2v2h-2zM401 496h2v2h-2zM399 498h2v2h-2zM398.5 500h0.5v2h-0.5zM403 502h2v2h-2zM401 504h2v2h-2zM399 506h2v2h-2zM398.5 508h0.5v2h-0.5zM403 510h2v2h-2zM401 512h2v2h-2zM399 514h2v2h-2zM398.5 516h0.5v2h-0.5zM403 518h2v2h-2zM401 520h2v2h-2zM399 522h2v2h-2zM398.5 524h0.5v2h-0.5zM403 526h2v2h-2zM401 528h2v2h-2zM399 530h2v2h-2zM398.5 532h0.5v2h-0.5zM403 534h2v2h-2zM401 536h2v2h-2zM399 538h2v2h-2zM398.5 540h0.5v2h-0.5zM403 542h2v2h-2zM401 544h2v2h-2zM399 546h2v2h-2zM398.5 548h0.5v2h-0.5zM403 550h2v2h-2zM401 552h2v2h-2zM399 554h2v2h-2zM398.5 556h0.5v2h-0.5zM403 558h2v2h-2zM401 560h2v2h-2zM399 562h2v2h-2zM398.5 564h0.5v2h-0.5zM403 566h2v2h-2zM401 568h2v2h-2zM399 570h2v2h-2zM398.5 572h0.5v2h-0.5zM403 574h2v2h-2zM401 576h2v2h-2zM399 578h2v2h-2zM398.5 580h0.5v2h-0.5zM403 582h2v2h-2zM401 584h2v2h-2zM399 586h2v2h-2zM398.5 588h0.5v2h-0.5zM403 590h2v2h-2zM401 592h2v2h-2zM399 594h2v2h-2zM398.5 596h0.5v2h-0.5zM403 598h2v2h-2zM401 600h2v2h-2zM399 602h2v0.3h-2zM411 438.6h2v1.4h-2zM409 440h2v2h-2zM407 442h2v2h-2zM405 444h2v2h-2zM411 446h2v2h-2zM409 448h2v2h-2zM407 450h2v2h-2zM405 452h2v2h-2zM411 454h2v2h-2zM409 456h2v2h-2zM407 458h2v2h-2zM405 460h2v2h-2zM411 462h2v2h-2zM409 464h2v2h-2zM407 466h2v2h-2zM405 468h2v2h-2zM411 470h2v2h-2zM409 472h2v2h-2zM407 474h2v2h-2zM405 476h2v2h-2zM411 478h2v2h-2zM409 480h2v2h-2zM407 482h2v2h-2zM405 484h2v2h-2zM411 486h2v2h-2zM409 488h2v2h-2zM407 490h2v2h-2zM405 492h2v2h-2zM411 494h2v2h-2zM409 496h2v2h-2zM407 498h2v2h-2zM405 500h2v2h-2zM411 502h2v2h-2zM409 504h2v2h-2zM407 506h2v2h-2zM405 508h2v2h-2zM411 510h2v2h-2zM409 512h2v2h-2zM407 514h2v2h-2zM405 516h2v2h-2zM411 518h2v2h-2zM409 520h2v2h-2zM407 522h2v2h-2zM405 524h2v2h-2zM411 526h2v2h-2zM409 528h2v2h-2zM407 530h2v2h-2zM405 532h2v2h-2zM411 534h2v2h-2zM409 536h2v2h-2zM407 538h2v2h-2zM405 540h2v2h-2zM411 542h2v2h-2zM409 544h2v2h-2zM407 546h2v2h-2zM405 548h2v2h-2zM411 550h2v2h-2zM409 552h2v2h-2zM407 554h2v2h-2zM405 556h2v2h-2zM411 558h2v2h-2zM409 560h2v2h-2zM407 562h2v2h-2zM405 564h2v2h-2zM411 566h2v2h-2zM409 568h2v2h-2zM407 570h2v2h-2zM405 572h2v2h-2zM411 574h2v2h-2zM409 576h2v2h-2zM407 578h2v2h-2zM405 580h2v2h-2zM411 582h2v2h-2zM409 584h2v2h-2zM407 586h2v2h-2zM405 588h2v2h-2zM411 590h2v2h-2zM409 592h2v2h-2zM407 594h2v2h-2zM405 596h2v2h-2zM411 598h2v2h-2zM409 600h2v2h-2zM407 602h2v0.3h-2zM419 438.6h2v1.4h-2zM417 440h2v2h-2zM415 442h2v2h-2zM413 444h2v2h-2zM419 446h2v2h-2zM417 448h2v2h-2zM415 450h2v2h-2zM413 452h2v2h-2zM419 454h2v2h-2zM417 456h2v2h-2zM415 458h2v2h-2zM413 460h2v2h-2zM419 462h2v2h-2zM417 464h2v2h-2zM415 466h2v2h-2zM413 468h2v2h-2zM419 470h2v2h-2zM417 472h2v2h-2zM415 474h2v2h-2zM413 476h2v2h-2zM419 478h2v2h-2zM417 480h2v2h-2zM415 482h2v2h-2zM413 484h2v2h-2zM419 486h2v2h-2zM417 488h2v2h-2zM415 490h2v2h-2zM413 492h2v2h-2zM419 494h2v2h-2zM417 496h2v2h-2zM415 498h2v2h-2zM413 500h2v2h-2zM419 502h2v2h-2zM417 504h2v2h-2zM415 506h2v2h-2zM413 508h2v2h-2zM419 510h2v2h-2zM417 512h2v2h-2zM415 514h2v2h-2zM413 516h2v2h-2zM419 518h2v2h-2zM417 520h2v2h-2zM415 522h2v2h-2zM413 524h2v2h-2zM419 526h2v2h-2zM417 528h2v2h-2zM415 530h2v2h-2zM413 532h2v2h-2zM419 534h2v2h-2zM417 536h2v2h-2zM415 538h2v2h-2zM413 540h2v2h-2zM419 542h2v2h-2zM417 544h2v2h-2zM415 546h2v2h-2zM413 548h2v2h-2zM419 550h2v2h-2zM417 552h2v2h-2zM415 554h2v2h-2zM413 556h2v2h-2zM419 558h2v2h-2zM417 560h2v2h-2zM415 562h2v2h-2zM413 564h2v2h-2zM419 566h2v2h-2zM417 568h2v2h-2zM415 570h2v2h-2zM413 572h2v2h-2zM419 574h2v2h-2zM417 576h2v2h-2zM415 578h2v2h-2zM413 580h2v2h-2zM419 582h2v2h-2zM417 584h2v2h-2zM415 586h2v2h-2zM413 588h2v2h-2zM419 590h2v2h-2zM417 592h2v2h-2zM415 594h2v2h-2zM413 596h2v2h-2zM419 598h2v2h-2zM417 600h2v2h-2zM415 602h2v0.3h-2zM427 438.6h2v1.4h-2zM425 440h2v2h-2zM423 442h2v2h-2zM421 444h2v2h-2zM427 446h2v2h-2zM425 448h2v2h-2zM423 450h2v2h-2zM421 452h2v2h-2zM427 454h2v2h-2zM425 456h2v2h-2zM423 458h2v2h-2zM421 460h2v2h-2zM427 462h2v2h-2zM425 464h2v2h-2zM423 466h2v2h-2zM421 468h2v2h-2zM427 470h2v2h-2zM425 472h2v2h-2zM423 474h2v2h-2zM421 476h2v2h-2zM427 478h2v2h-2zM425 480h2v2h-2zM423 482h2v2h-2zM421 484h2v2h-2zM427 486h2v2h-2zM425 488h2v2h-2zM423 490h2v2h-2zM421 492h2v2h-2zM427 494h2v2h-2zM425 496h2v2h-2zM423 498h2v2h-2zM421 500h2v2h-2zM427 502h2v2h-2zM425 504h2v2h-2zM423 506h2v2h-2zM421 508h2v2h-2zM427 510h2v2h-2zM425 512h2v2h-2zM423 514h2v2h-2zM421 516h2v2h-2zM427 518h2v2h-2zM425 520h2v2h-2zM423 522h2v2h-2zM421 524h2v2h-2zM427 526h2v2h-2zM425 528h2v2h-2zM423 530h2v2h-2zM421 532h2v2h-2zM427 534h2v2h-2zM425 536h2v2h-2zM423 538h2v2h-2zM421 540h2v2h-2zM427 542h2v2h-2zM425 544h2v2h-2zM423 546h2v2h-2zM421 548h2v2h-2zM427 550h2v2h-2zM425 552h2v2h-2zM423 554h2v2h-2zM421 556h2v2h-2zM427 558h2v2h-2zM425 560h2v2h-2zM423 562h2v2h-2zM421 564h2v2h-2zM427 566h2v2h-2zM425 568h2v2h-2zM423 570h2v2h-2zM421 572h2v2h-2zM427 574h2v2h-2zM425 576h2v2h-2zM423 578h2v2h-2zM421 580h2v2h-2zM427 582h2v2h-2zM425 584h2v2h-2zM423 586h2v2h-2zM421 588h2v2h-2zM427 590h2v2h-2zM425 592h2v2h-2zM423 594h2v2h-2zM421 596h2v2h-2zM427 598h2v2h-2zM425 600h2v2h-2zM423 602h2v0.3h-2zM429 444h1.65v2h-1.65zM429 452h1.65v2h-1.65zM429 460h1.65v2h-1.65zM429 468h1.65v2h-1.65zM429 476h1.65v2h-1.65zM429 484h1.65v2h-1.65zM429 492h1.65v2h-1.65zM429 500h1.65v2h-1.65zM429 508h1.65v2h-1.65zM429 516h1.65v2h-1.65zM429 524h1.65v2h-1.65zM429 532h1.65v2h-1.65zM429 540h1.65v2h-1.65zM429 548h1.65v2h-1.65zM429 556h1.65v2h-1.65zM429 564h1.65v2h-1.65zM429 572h1.65v2h-1.65zM429 580h1.65v2h-1.65zM429 588h1.65v2h-1.65zM429 596h1.65v2h-1.65z" fill="#111"/>
<rect x="398.50" y="438.60" width="32.15" height="163.70" fill="none" stroke="#111" stroke-width="1.5"/>
<text x="414.57" y="421.50" text-anchor="middle" font-size="16" xml:space="preserve">a</text>
<path d="M446.72 577.40V568.80" stroke="#1c1c1c" stroke-width="1.35" fill="none"/>
<path d="M442.12 568.80H451.32" stroke="#3c3c3c" stroke-width="1.15" fill="none"/>
<rect x="430.65" y="577.40" width="32.15" height="24.90" fill="#fff"/>
<path d="M430.65 578h0.35v2h-0.35zM430.65 586h0.35v2h-0.35zM430.65 594h0.35v2h-0.35zM430.65 602h0.35v0.3h-0.35zM445 578h2v2h-2zM437 582h2v2h-2zM445 586h2v2h-2zM437 590h2v2h-2zM445 594h2v2h-2zM437 598h2v2h-2zM445 602h2v0.3h-2zM461 578h1.8v2h-1.8zM453 582h2v2h-2zM461 586h1.8v2h-1.8zM453 590h2v2h-2zM461 594h1.8v2h-1.8zM453 598h2v2h-2zM461 602h1.8v0.3h-1.8z" fill="#111"/>
<rect x="430.65" y="577.40" width="32.15" height="24.90" fill="none" stroke="#111" stroke-width="1.5"/>
<text x="446.72" y="560.20" text-anchor="middle" font-size="16" xml:space="preserve">b</text>
<path d="M478.88 593.20V590.70" stroke="#1c1c1c" stroke-width="1.35" fill="none"/>
<path d="M474.27 590.70H483.48" stroke="#3c3c3c" stroke-width="1.15" fill="none"/>
<rect x="462.80" y="593.20" width="32.15" height="9.10" fill="#808080" stroke="#111" stroke-width="1.5"/>
<text x="478.88" y="573.50" text-anchor="middle" font-size="16" xml:space="preserve">b</text>
<path d="M559.28 496.60V485.00" stroke="#1c1c1c" stroke-width="1.35" fill="none"/>
<path d="M554.68 485.00H563.88" stroke="#3c3c3c" stroke-width="1.15" fill="none"/>
<rect x="543.20" y="496.60" width="32.15" height="105.70" fill="#fff"/>
<path d="M545 496.6h2v1.4h-2zM543.2 498h1.8v2h-1.8zM547 502h2v2h-2zM545 504h2v2h-2zM543.2 506h1.8v2h-1.8zM547 510h2v2h-2zM545 512h2v2h-2zM543.2 514h1.8v2h-1.8zM547 518h2v2h-2zM545 520h2v2h-2zM543.2 522h1.8v2h-1.8zM547 526h2v2h-2zM545 528h2v2h-2zM543.2 530h1.8v2h-1.8zM547 534h2v2h-2zM545 536h2v2h-2zM543.2 538h1.8v2h-1.8zM547 542h2v2h-2zM545 544h2v2h-2zM543.2 546h1.8v2h-1.8zM547 550h2v2h-2zM545 552h2v2h-2zM543.2 554h1.8v2h-1.8zM547 558h2v2h-2zM545 560h2v2h-2zM543.2 562h1.8v2h-1.8zM547 566h2v2h-2zM545 568h2v2h-2zM543.2 570h1.8v2h-1.8zM547 574h2v2h-2zM545 576h2v2h-2zM543.2 578h1.8v2h-1.8zM547 582h2v2h-2zM545 584h2v2h-2zM543.2 586h1.8v2h-1.8zM547 590h2v2h-2zM545 592h2v2h-2zM543.2 594h1.8v2h-1.8zM547 598h2v2h-2zM545 600h2v2h-2zM543.2 602h1.8v0.3h-1.8zM553 496.6h2v1.4h-2zM551 498h2v2h-2zM549 500h2v2h-2zM555 502h2v2h-2zM553 504h2v2h-2zM551 506h2v2h-2zM549 508h2v2h-2zM555 510h2v2h-2zM553 512h2v2h-2zM551 514h2v2h-2zM549 516h2v2h-2zM555 518h2v2h-2zM553 520h2v2h-2zM551 522h2v2h-2zM549 524h2v2h-2zM555 526h2v2h-2zM553 528h2v2h-2zM551 530h2v2h-2zM549 532h2v2h-2zM555 534h2v2h-2zM553 536h2v2h-2zM551 538h2v2h-2zM549 540h2v2h-2zM555 542h2v2h-2zM553 544h2v2h-2zM551 546h2v2h-2zM549 548h2v2h-2zM555 550h2v2h-2zM553 552h2v2h-2zM551 554h2v2h-2zM549 556h2v2h-2zM555 558h2v2h-2zM553 560h2v2h-2zM551 562h2v2h-2zM549 564h2v2h-2zM555 566h2v2h-2zM553 568h2v2h-2zM551 570h2v2h-2zM549 572h2v2h-2zM555 574h2v2h-2zM553 576h2v2h-2zM551 578h2v2h-2zM549 580h2v2h-2zM555 582h2v2h-2zM553 584h2v2h-2zM551 586h2v2h-2zM549 588h2v2h-2zM555 590h2v2h-2zM553 592h2v2h-2zM551 594h2v2h-2zM549 596h2v2h-2zM555 598h2v2h-2zM553 600h2v2h-2zM551 602h2v0.3h-2zM561 496.6h2v1.4h-2zM559 498h2v2h-2zM557 500h2v2h-2zM563 502h2v2h-2zM561 504h2v2h-2zM559 506h2v2h-2zM557 508h2v2h-2zM563 510h2v2h-2zM561 512h2v2h-2zM559 514h2v2h-2zM557 516h2v2h-2zM563 518h2v2h-2zM561 520h2v2h-2zM559 522h2v2h-2zM557 524h2v2h-2zM563 526h2v2h-2zM561 528h2v2h-2zM559 530h2v2h-2zM557 532h2v2h-2zM563 534h2v2h-2zM561 536h2v2h-2zM559 538h2v2h-2zM557 540h2v2h-2zM563 542h2v2h-2zM561 544h2v2h-2zM559 546h2v2h-2zM557 548h2v2h-2zM563 550h2v2h-2zM561 552h2v2h-2zM559 554h2v2h-2zM557 556h2v2h-2zM563 558h2v2h-2zM561 560h2v2h-2zM559 562h2v2h-2zM557 564h2v2h-2zM563 566h2v2h-2zM561 568h2v2h-2zM559 570h2v2h-2zM557 572h2v2h-2zM563 574h2v2h-2zM561 576h2v2h-2zM559 578h2v2h-2zM557 580h2v2h-2zM563 582h2v2h-2zM561 584h2v2h-2zM559 586h2v2h-2zM557 588h2v2h-2zM563 590h2v2h-2zM561 592h2v2h-2zM559 594h2v2h-2zM557 596h2v2h-2zM563 598h2v2h-2zM561 600h2v2h-2zM559 602h2v0.3h-2zM569 496.6h2v1.4h-2zM567 498h2v2h-2zM565 500h2v2h-2zM571 502h2v2h-2zM569 504h2v2h-2zM567 506h2v2h-2zM565 508h2v2h-2zM571 510h2v2h-2zM569 512h2v2h-2zM567 514h2v2h-2zM565 516h2v2h-2zM571 518h2v2h-2zM569 520h2v2h-2zM567 522h2v2h-2zM565 524h2v2h-2zM571 526h2v2h-2zM569 528h2v2h-2zM567 530h2v2h-2zM565 532h2v2h-2zM571 534h2v2h-2zM569 536h2v2h-2zM567 538h2v2h-2zM565 540h2v2h-2zM571 542h2v2h-2zM569 544h2v2h-2zM567 546h2v2h-2zM565 548h2v2h-2zM571 550h2v2h-2zM569 552h2v2h-2zM567 554h2v2h-2zM565 556h2v2h-2zM571 558h2v2h-2zM569 560h2v2h-2zM567 562h2v2h-2zM565 564h2v2h-2zM571 566h2v2h-2zM569 568h2v2h-2zM567 570h2v2h-2zM565 572h2v2h-2zM571 574h2v2h-2zM569 576h2v2h-2zM567 578h2v2h-2zM565 580h2v2h-2zM571 582h2v2h-2zM569 584h2v2h-2zM567 586h2v2h-2zM565 588h2v2h-2zM571 590h2v2h-2zM569 592h2v2h-2zM567 594h2v2h-2zM565 596h2v2h-2zM571 598h2v2h-2zM569 600h2v2h-2zM567 602h2v0.3h-2zM575 498h0.35v2h-0.35zM573 500h2v2h-2zM575 506h0.35v2h-0.35zM573 508h2v2h-2zM575 514h0.35v2h-0.35zM573 516h2v2h-2zM575 522h0.35v2h-0.35zM573 524h2v2h-2zM575 530h0.35v2h-0.35zM573 532h2v2h-2zM575 538h0.35v2h-0.35zM573 540h2v2h-2zM575 546h0.35v2h-0.35zM573 548h2v2h-2zM575 554h0.35v2h-0.35zM573 556h2v2h-2zM575 562h0.35v2h-0.35zM573 564h2v2h-2zM575 570h0.35v2h-0.35zM573 572h2v2h-2zM575 578h0.35v2h-0.35zM573 580h2v2h-2zM575 586h0.35v2h-0.35zM573 588h2v2h-2zM575 594h0.35v2h-0.35zM573 596h2v2h-2zM575 602h0.35v0.3h-0.35z" fill="#111"/>
<rect x="543.20" y="496.60" width="32.15" height="105.70" fill="none" stroke="#111" stroke-width="1.5"/>
<text x="560.78" y="474.80" text-anchor="middle" font-size="16" xml:space="preserve">a</text>
<path d="M591.42 524.50V513.40" stroke="#1c1c1c" stroke-width="1.35" fill="none"/>
<path d="M586.82 513.40H596.02" stroke="#3c3c3c" stroke-width="1.15" fill="none"/>
<rect x="575.35" y="524.50" width="32.15" height="77.80" fill="#fff"/>
<path d="M581 526h2v2h-2zM589 530h2v2h-2zM581 534h2v2h-2zM589 538h2v2h-2zM581 542h2v2h-2zM589 546h2v2h-2zM581 550h2v2h-2zM589 554h2v2h-2zM581 558h2v2h-2zM589 562h2v2h-2zM581 566h2v2h-2zM589 570h2v2h-2zM581 574h2v2h-2zM589 578h2v2h-2zM581 582h2v2h-2zM589 586h2v2h-2zM581 590h2v2h-2zM589 594h2v2h-2zM581 598h2v2h-2zM589 602h2v0.3h-2zM597 526h2v2h-2zM605 530h2v2h-2zM597 534h2v2h-2zM605 538h2v2h-2zM597 542h2v2h-2zM605 546h2v2h-2zM597 550h2v2h-2zM605 554h2v2h-2zM597 558h2v2h-2zM605 562h2v2h-2zM597 566h2v2h-2zM605 570h2v2h-2zM597 574h2v2h-2zM605 578h2v2h-2zM597 582h2v2h-2zM605 586h2v2h-2zM597 590h2v2h-2zM605 594h2v2h-2zM597 598h2v2h-2zM605 602h2v0.3h-2z" fill="#111"/>
<rect x="575.35" y="524.50" width="32.15" height="77.80" fill="none" stroke="#111" stroke-width="1.5"/>
<text x="591.02" y="508.10" text-anchor="middle" font-size="16" xml:space="preserve">a</text>
<path d="M623.58 588.50V585.00" stroke="#1c1c1c" stroke-width="1.35" fill="none"/>
<path d="M618.98 585.00H628.18" stroke="#3c3c3c" stroke-width="1.15" fill="none"/>
<rect x="607.50" y="588.50" width="32.15" height="13.80" fill="#808080" stroke="#111" stroke-width="1.5"/>
<text x="623.58" y="573.50" text-anchor="middle" font-size="16" xml:space="preserve">b</text>
<text x="157.00" y="635.30" text-anchor="middle" font-size="16" xml:space="preserve">Ar. reared</text>
<text x="302.00" y="635.30" text-anchor="middle" font-size="16" xml:space="preserve">Tobacco reared</text>
<text x="447.00" y="635.30" text-anchor="middle" font-size="16" xml:space="preserve">Pepper reared</text>
<text x="592.00" y="635.30" text-anchor="middle" font-size="16" xml:space="preserve">Cotton reared</text>
<text x="347.10" y="679.00" text-anchor="middle" font-size="16" font-weight="bold" xml:space="preserve">Feeding experiences</text>
<text x="2.30" y="395.90" text-anchor="start" font-size="22" font-weight="bold" xml:space="preserve">B</text>
<text transform="translate(14.7,505) rotate(-90)" text-anchor="middle" font-size="16" font-weight="bold" xml:space="preserve">Preference  index</text>
<rect x="520.90" y="377.25" width="8.3" height="7.9" fill="#fff"/>
<path d="M521 377.25h2v0.75h-2zM520.9 378h0.1v2h-0.1zM523 382h2v2h-2zM521 384h2v1.15h-2zM529 377.25h0.2v0.75h-0.2zM527 378h2v2h-2zM525 380h2v2h-2zM529 384h0.2v1.15h-0.2z" fill="#111"/>
<rect x="520.90" y="377.25" width="8.3" height="7.9" fill="none" stroke="#111" stroke-width="1.5"/>
<text x="532.70" y="386.90" text-anchor="start" font-size="16" xml:space="preserve" textLength="112.2">Tobacco leaves</text>
<rect x="520.90" y="402.75" width="8.3" height="7.9" fill="#fff" stroke="#111" stroke-width="1.5"/>
<text x="532.70" y="412.40" text-anchor="start" font-size="16" xml:space="preserve">Cotton leaves</text>
<rect x="520.90" y="428.05" width="8.3" height="7.9" fill="#808080" stroke="#111" stroke-width="1.5"/>
<text x="532.70" y="437.50" text-anchor="start" font-size="16" xml:space="preserve">Pepper leaves</text>
</svg></body></html>
